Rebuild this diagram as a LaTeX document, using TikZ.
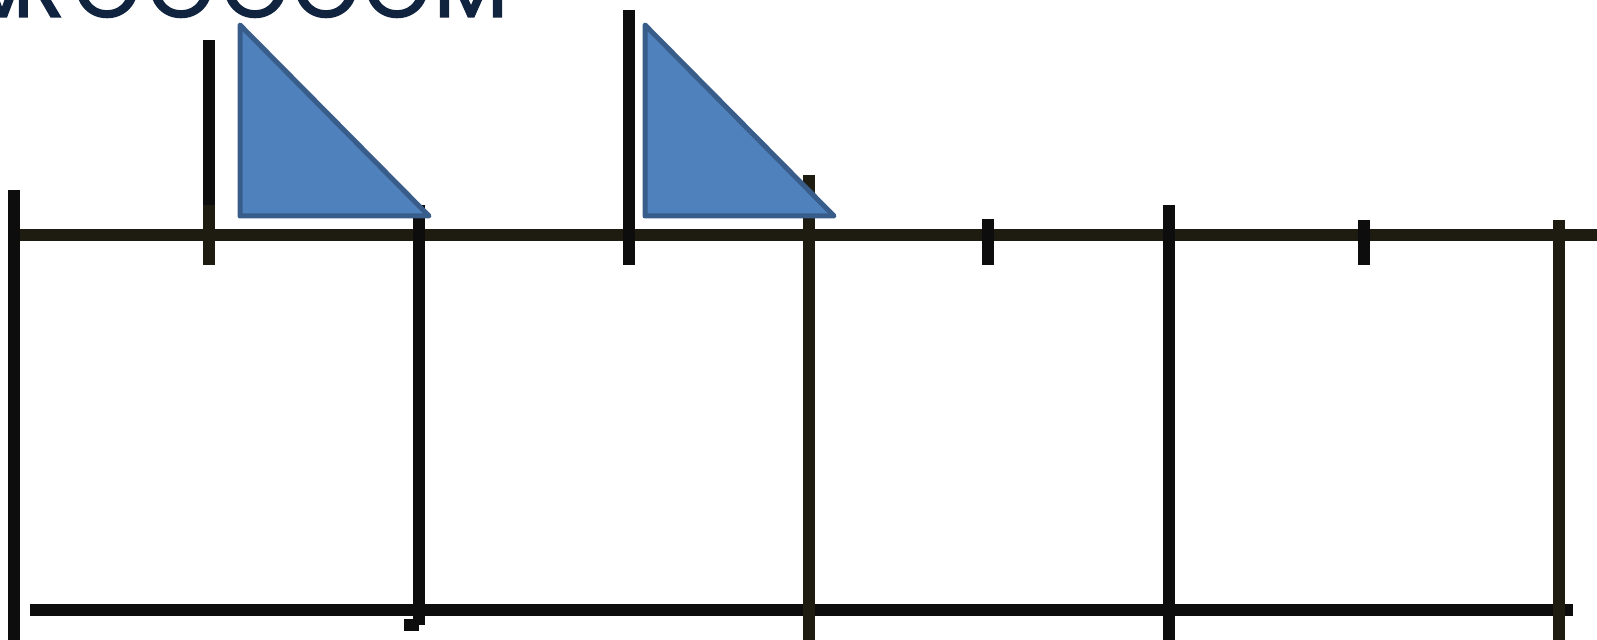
\documentclass[tikz,border=0pt]{standalone}
\usepackage{fontspec}
\newfontfamily\popfont{Poppins}[FakeBold=1.6]
\definecolor{ink}{HTML}{0D0D0D}
\definecolor{inkb}{HTML}{1E1B10}
\definecolor{navy}{HTML}{11243F}
\definecolor{trifill}{HTML}{4F81BD}
\definecolor{triline}{HTML}{385D8A}
\begin{document}
\begin{tikzpicture}[x=0.5pt,y=-0.5pt,
  bar/.style={draw=ink,line width=6pt},
  barb/.style={draw=inkb,line width=6pt},
  tri/.style={fill=trifill,draw=triline,line width=2.5pt,line join=round},
  letter/.style={font=\popfont\fontsize{43pt}{43pt}\selectfont,text=navy,inner sep=0pt,anchor=base}]
\useasboundingbox (0,0) rectangle (1597,640);
\clip (0,0) rectangle (1597,640);
% cut-off title letters
\foreach \ch/\cx [count=\i] in {V/2,R/39,O/107,O/181,O/255,O/326,O/397,M/471}
  \node[letter] (t\i) at (\cx,17) {\ch};
% rails
\draw[barb] (14,235) -- (1597,235);
\draw[bar] (30,610) -- (1573,610);
% posts
\draw[bar] (14,190) -- (14,640);
\draw[bar] (209,40) -- (209,205);
\draw[barb] (209,205) -- (209,265);
\draw[bar] (419,205) -- (419,625);
\fill[ink] (404,619) rectangle (419,631);
\draw[bar] (629,10) -- (629,265);
\draw[barb] (809,175) -- (809,640);
\draw[bar] (988,219) -- (988,265);
\draw[bar] (1169,205) -- (1169,640);
\draw[bar] (1364,220) -- (1364,265);
\draw[barb] (1559,220) -- (1559,640);
% triangles
\draw[tri] (240,25) -- (240,216) -- (429,216) -- cycle;
\draw[tri] (645,25) -- (645,216) -- (834,216) -- cycle;
\end{tikzpicture}
\end{document}
